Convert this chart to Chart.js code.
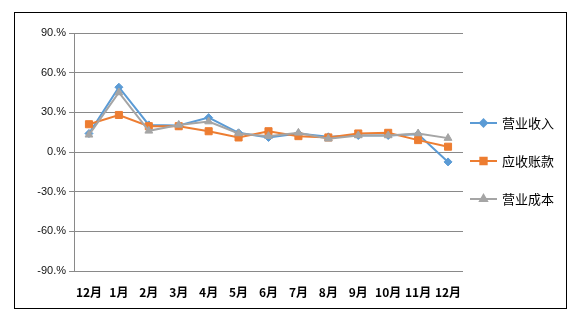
<!DOCTYPE html>
<html>
<head>
<meta charset="utf-8">
<script src="https://cdn.jsdelivr.net/npm/chart.js@4/dist/chart.umd.min.js"></script>
<style>
  html, body { margin: 0; padding: 0; background: #fff; }
  canvas { display: block; }
</style>
</head>
<body>
<canvas id="trendChart" width="583" height="323"></canvas>
<script>
    const months = ["12月", "1月", "2月", "3月", "4月", "5月", "6月", "7月", "8月", "9月", "10月", "11月", "12月"];
    const revenue = [14, 49, 20.5, 20, 26, 14.5, 11, 14, 11.5, 12.5, 12.5, 13.5, -7.5];
    const receivables = [21, 28, 19.5, 19.5, 15.7, 11, 15.7, 12, 11, 14, 14.5, 9, 4];
    const cost = [13, 45, 16, 20.5, 23, 14, 12, 14.5, 10, 12.5, 12.5, 14, 10.5];
    const yTicks = [-90, -60, -30, 0, 30, 60, 90];
    const yTickLabels = ["-90.%", "-60.%", "-30.%", "0.%", "30.%", "60.%", "90.%"];

    // outer frame + legend on the right (line sample with marker)
    const framePlugin = {
        id: "frame",
        afterDraw(chart) {
            const ctx = chart.ctx;
            ctx.save();
            ctx.strokeStyle = "#000";
            ctx.lineWidth = 1;
            ctx.strokeRect(14.5, 12.5, 552, 296);

            const rows = [123, 161, 199];
            chart.data.datasets.forEach((ds, i) => {
                const y = rows[i];
                ctx.strokeStyle = ds.borderColor;
                ctx.fillStyle = ds.backgroundColor;
                ctx.lineWidth = 2;
                ctx.beginPath();
                ctx.moveTo(470, y);
                ctx.lineTo(497, y);
                ctx.stroke();
                Chart.helpers.drawPoint(ctx, {
                    pointStyle: ds.pointStyle,
                    radius: ds.pointRadius - 0.5,
                    rotation: 0,
                    borderWidth: 1
                }, 483.5, y);
                ctx.fillStyle = "#000";
                ctx.font = "13px 'Noto Sans CJK SC'";
                ctx.textBaseline = "middle";
                ctx.textAlign = "left";
                ctx.fillText(ds.label, 502, y);
            });
            ctx.restore();
        }
    };

    const trendCtx = document.getElementById("trendChart").getContext("2d");
    const trendChart = new Chart(trendCtx, {
        type: "line",
        data: {
            labels: months,
            datasets: [
                {
                    label: "营业收入",
                    data: revenue,
                    borderColor: "#5B9BD5",
                    backgroundColor: "#5B9BD5",
                    borderWidth: 2,
                    pointStyle: "rectRot",
                    pointRadius: 4,
                    pointBorderWidth: 1,
                    order: 3
                },
                {
                    label: "应收账款",
                    data: receivables,
                    borderColor: "#ED7D31",
                    backgroundColor: "#ED7D31",
                    borderWidth: 2,
                    pointStyle: "rect",
                    pointRadius: 5,
                    pointBorderWidth: 1,
                    order: 2
                },
                {
                    label: "营业成本",
                    data: cost,
                    borderColor: "#A5A5A5",
                    backgroundColor: "#A5A5A5",
                    borderWidth: 2,
                    pointStyle: "triangle",
                    pointRadius: 4.5,
                    pointBorderWidth: 1,
                    order: 1
                }
            ]
        },
        options: {
            responsive: false,
            animation: false,
            layout: { padding: { top: 33, right: 120, left: 0, bottom: 0 } },
            plugins: {
                legend: { display: false },
                tooltip: { enabled: false }
            },
            scales: {
                x: {
                    offset: true,
                    grid: { display: false, drawTicks: false },
                    border: { display: false },
                    ticks: {
                        padding: 14,
                        maxRotation: 0,
                        autoSkip: false,
                        color: "#000",
                        font: { family: "'Noto Sans CJK SC'", size: 12, weight: "bold" }
                    },
                    afterFit(scale) { scale.height = 52; }
                },
                y: {
                    min: -90,
                    max: 90,
                    afterBuildTicks(scale) {
                        scale.ticks = yTicks.map(v => ({ value: v }));
                    },
                    grid: { color: "#898989", lineWidth: 1, tickLength: 5 },
                    border: { color: "#898989", width: 1 },
                    ticks: {
                        padding: 3,
                        color: "#111",
                        font: { family: "'Liberation Sans'", size: 11 },
                        callback: (v) => yTickLabels[yTicks.indexOf(v)]
                    },
                    afterFit(scale) { scale.width = 74; }
                }
            }
        },
        plugins: [framePlugin]
    });
</script>
</body>
</html>
